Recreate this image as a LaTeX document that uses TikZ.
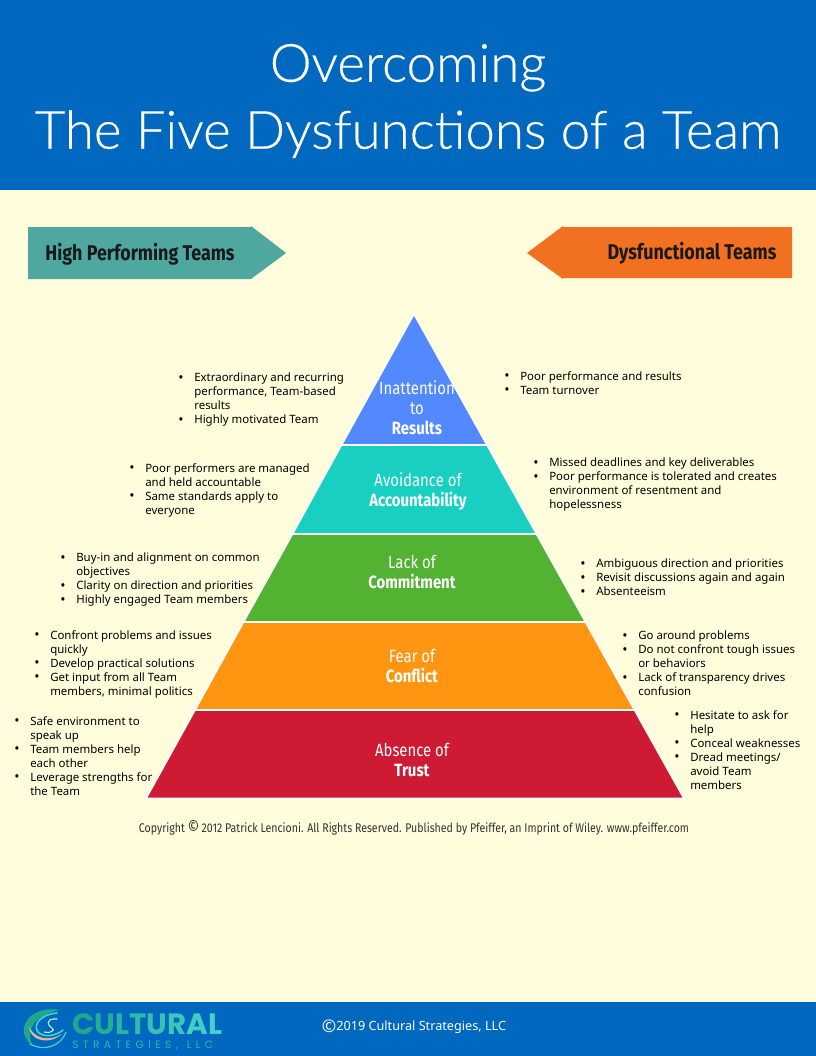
\documentclass[tikz,border=0pt]{standalone}
\usepackage{fontspec}
\usetikzlibrary{positioning, shapes.geometric}
\setmainfont{Noto Sans}
\newfontfamily\titlefont[FakeBold=0.35]{Lato Light}
\newfontfamily\narrowfont[FakeStretch=0.84]{Fira Sans}
\newfontfamily\logofont{Poppins}
\definecolor{bandblue}{HTML}{0068BF}
\definecolor{paper}{HTML}{FFFDDB}
\definecolor{bannerteal}{HTML}{4FA8A0}
\definecolor{bannerorange}{HTML}{F17022}
\definecolor{layerblue}{HTML}{5289FF}
\definecolor{layerteal}{HTML}{19CFC2}
\definecolor{layergreen}{HTML}{52B231}
\definecolor{layerorange}{HTML}{FF9511}
\definecolor{layerred}{HTML}{CE1B33}
\definecolor{logogreen}{HTML}{1FA88C}
\definecolor{logoaqua}{HTML}{45D2CB}
\definecolor{logotan}{HTML}{D9BE8C}
\newcommand{\bul}{\leavevmode\llap{\raisebox{-0.3pt}{\fontsize{10.5}{10}\selectfont\textbullet}\hspace{8pt}}}
\newcommand{\copymark}{{\fontsize{13}{10}\selectfont\raisebox{-1.2pt}{©}}}
\newcommand{\gap}{\hspace{3.3pt}}
\begin{document}
\begin{tikzpicture}[
    x=0.75pt, y=-0.75pt,
    % Styles
    layer/.style={draw=white, line width=1.2pt, line join=miter},
    caption/.style={text=white, align=center, inner sep=0pt, font=\narrowfont\fontsize{13.3}{15}\selectfont},
    bullets/.style={anchor=north west, inner sep=0pt, align=left, font=\fontsize{8.6}{10.5}\selectfont},
    banner/.style={anchor=center, inner sep=0pt, font=\narrowfont\bfseries\fontsize{16}{18}\selectfont, text=black!90},
    swirl/.style={line cap=round, fill=none},
]

% Page and bands
\useasboundingbox (0,0) rectangle (816,1056);
\fill[paper] (0,0) rectangle (816,1056);
\fill[bandblue] (0,0) rectangle (816,190);
\fill[bandblue] (0,1002) rectangle (816,1056);

% Title
\node[text=white, align=center, inner sep=0pt, font=\titlefont\fontsize{39.6}{50.2}\selectfont] (title) at (408,101) {Overcoming\\The Five Dysfunctions of a Team};

% Banners
\fill[bannerteal] (28,227) -- (251,227) -- (251,226) -- (286,253) -- (251,279) -- (28,279) -- cycle;
\node[banner] (high) at (140,254) {High Performing Teams};
\fill[bannerorange] (792,227) -- (563,227) -- (563,226) -- (527,253) -- (563,279) -- (563,278) -- (792,278) -- cycle;
\node[banner] (dys) at (692,253) {Dysfunctional Teams};

% Pyramid layers
\filldraw[layer, fill=layerblue] (414,314) -- (487,445) -- (341.5,445) -- cycle;
\filldraw[layer, fill=layerteal] (341.5,445) -- (487,445) -- (536.5,534) -- (292.5,534) -- cycle;
\filldraw[layer, fill=layergreen] (292.5,534) -- (536.5,534) -- (585.5,622) -- (243.5,622) -- cycle;
\filldraw[layer, fill=layerorange] (243.5,622) -- (585.5,622) -- (634.5,710) -- (195,710) -- cycle;
\filldraw[layer, fill=layerred] (195,710) -- (634.5,710) -- (684,798.5) -- (146,798.5) -- cycle;

% Layer captions
\node[caption] (results) at (417,408) {Inattention\\to\\\textbf{Results}};
\node[caption] (account) at (418,492) {Avoidance of\\\textbf{Accountability}};
\node[caption] (commit) at (412,572) {Lack of\\\textbf{Commitment}};
\node[caption] (conflict) at (412,666) {Fear of\\\textbf{Conflict}};
\node[caption] (trust) at (412,760) {Absence of\\\textbf{Trust}};

% Left column
\node[bullets] (hi1) at (194,373) {\bul Extraordinary and recurring\\performance, Team-based\\results\\\bul Highly motivated Team};
\node[bullets] (hi2) at (145,463) {\bul Poor performers are managed\\and held accountable\\\bul Same standards apply to\\everyone};
\node[bullets] (hi3) at (76,553) {\bul Buy-in and alignment on common\\objectives\\\bul Clarity on direction and priorities\\\bul Highly engaged Team members};
\node[bullets] (hi4) at (50,630) {\bul Confront problems and issues\\quickly\\\bul Develop practical solutions\\\bul Get input from all Team\\members, minimal politics};
\node[bullets] (hi5) at (30,716) {\bul Safe environment to\\speak up\\\bul Team members help\\each other\\\bul Leverage strengths for\\the Team};

% Right column
\node[bullets] (dy1) at (520,371) {\bul Poor performance and results\\\bul Team turnover};
\node[bullets] (dy2) at (549,458) {\bul Missed deadlines and key deliverables\\\bul Poor performance is tolerated and creates\\environment of resentment and\\hopelessness};
\node[bullets] (dy3) at (596,559) {\bul Ambiguous direction and priorities\\\bul Revisit discussions again and again\\\bul Absenteeism};
\node[bullets] (dy4) at (638,631) {\bul Go around problems\\\bul Do not confront tough issues\\or behaviors\\\bul Lack of transparency drives\\confusion};
\node[bullets] (dy5) at (690,710) {\bul Hesitate to ask for\\help\\\bul Conceal weaknesses\\\bul Dread meetings/\\avoid Team\\members};

% Copyright line
\node[inner sep=0pt, text=black!80, font=\narrowfont\fontsize{9.45}{10}\selectfont] (copy) at (414,828) {Copyright \copymark\,2012 Patrick Lencioni. All Rights Reserved. Published by Pfeiffer, an Imprint of Wiley. www.pfeiffer.com};

% Logo
\fill[logogreen] (60,1010) .. controls (36,1006) and (22,1020) .. (24,1032) .. controls (25,1040) and (30,1044) .. (33,1046) .. controls (27,1036) and (28,1016) .. (60,1010) -- cycle;
\fill[logotan] (29,1027) .. controls (30,1040) and (48,1046) .. (62,1034) .. controls (50,1041) and (36,1040) .. (29,1027) -- cycle;
\draw[swirl, logoaqua, line width=1.2pt] (57,1013) .. controls (42,1014) and (32,1024) .. (38,1032) .. controls (44,1038) and (56,1036) .. (63,1030);
\draw[swirl, logoaqua, line width=0.9pt] (30,1044) .. controls (42,1051) and (60,1048) .. (66,1032);
\draw[swirl, white!70!logoaqua, line width=0.8pt] (57,1019) .. controls (44,1018) and (48,1026) .. (52,1028) .. controls (56,1030) and (50,1034) .. (44,1032);
\node[anchor=west, inner sep=0pt, text height=15.5pt, text depth=0pt, font=\logofont\bfseries\fontsize{22}{22}\selectfont] (cultural) at (72,1024) {\textcolor{logogreen}{C}\textcolor{logogreen!85!logoaqua}{U}\textcolor{logogreen!70!logoaqua}{L}\textcolor{logogreen!55!logoaqua}{T}\textcolor{logogreen!40!logoaqua}{U}\textcolor{logogreen!25!logoaqua}{R}\textcolor{logogreen!10!logoaqua}{A}\textcolor{logoaqua}{L}};
\node[anchor=west, inner sep=0pt, text=logogreen!60!logoaqua, font=\logofont\fontsize{8}{10}\selectfont] (llc) at (72,1045) {S\gap T\gap R\gap A\gap T\gap E\gap G\gap I\gap E\gap S\gap,\gap\gap L\gap L\gap C};

% Footer text
\node[inner sep=0pt, text=white, font=\fontsize{9.5}{11}\selectfont] (foot) at (414,1026.5) {\copymark 2019 Cultural Strategies, LLC};

\end{tikzpicture}
\end{document}
